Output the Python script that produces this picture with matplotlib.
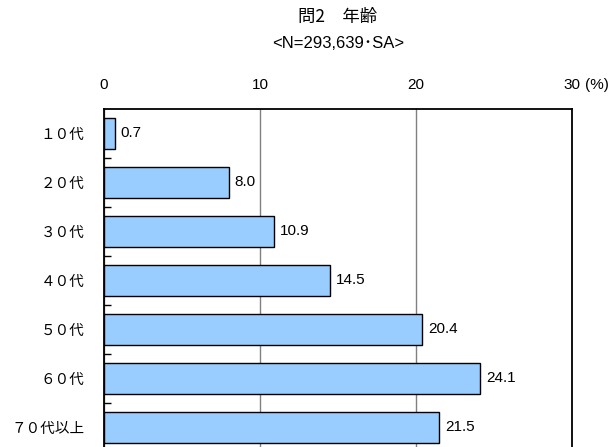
import numpy as np
import matplotlib.pyplot as plt

plt.rcParams['font.family'] = ['Liberation Sans', 'Noto Sans CJK JP']

categories = ["１０代", "２０代", "３０代", "４０代", "５０代", "６０代", "７０代以上"]
values = [0.7, 8.0, 10.9, 14.5, 20.4, 24.1, 21.5]
x_ticks = [0, 10, 20, 30]

fig = plt.figure(figsize=(6.13, 4.47), dpi=100)
ax = fig.add_axes([104 / 613, 1 - 451.7 / 447, 468 / 613, (451.7 - 109) / 447])

y = np.arange(len(categories))
ax.barh(y, values, height=0.63, color="#99CCFF", edgecolor="black", linewidth=1.0, zorder=3)

for i, v in enumerate(values):
    ax.text(v + 0.38, i, f"{v:.1f}", va="center", ha="left", fontsize=11)

ax.set_xlim(0, 30)
ax.set_ylim(len(categories) - 0.5, -0.5)
ax.xaxis.tick_top()
ax.set_xticks(x_ticks)
ax.set_xticklabels([str(t) for t in x_ticks], fontsize=11)
ax.tick_params(axis="x", length=0, pad=12)
ax.grid(axis="x", color="#808080", linewidth=1.0, zorder=0)

ax.set_yticks(y)
ax.set_yticklabels(categories, fontsize=10.5, family=['Noto Sans CJK JP'])
ax.set_yticks(np.arange(0.5, len(categories) - 0.5), minor=True)
ax.tick_params(axis="y", which="major", length=0, pad=14)
ax.tick_params(axis="y", which="minor", direction="in", length=5, width=1.0)

for s in ax.spines.values():
    s.set_linewidth(1.3)

fig.text(597 / 613, 1 - 85 / 447, "(%)", ha="center", va="center", fontsize=11)
fig.text(338 / 613, 1 - 17 / 447, "問2　年齢", ha="center", va="center", fontsize=12.5,
         family=['Noto Sans CJK JP'])
fig.text(338 / 613, 1 - 43 / 447, "<N=293,639･SA>", ha="center", va="center", fontsize=12,
         family=['Liberation Sans', 'Noto Sans CJK JP'])

fig.savefig("out.png", dpi=100)
